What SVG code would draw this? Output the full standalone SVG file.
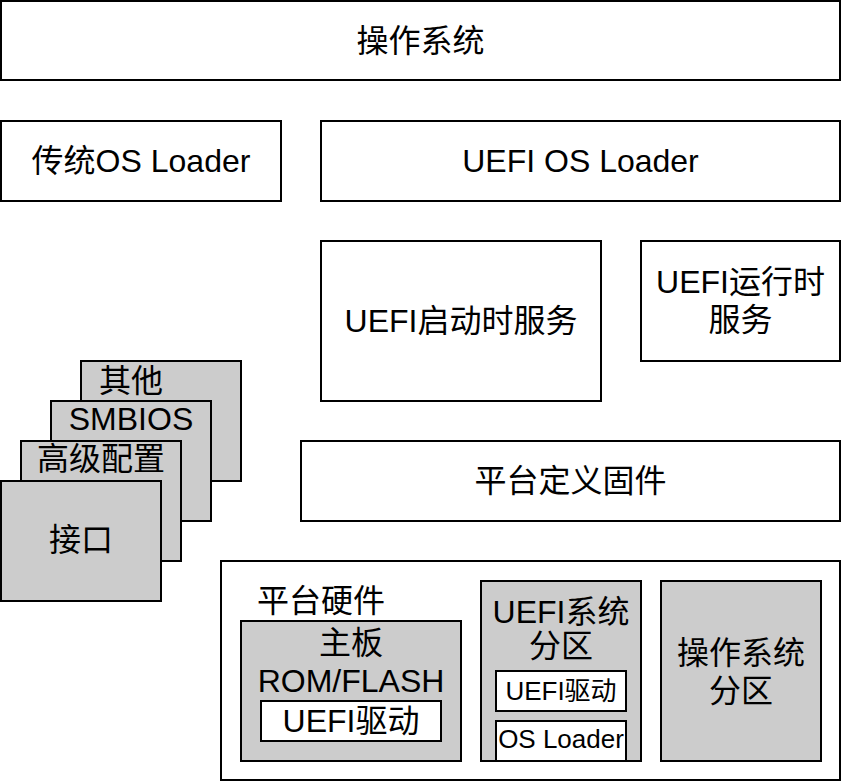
<svg xmlns="http://www.w3.org/2000/svg" width="842" height="782" viewBox="0 0 842 782">
<style>
rect{stroke:#000;stroke-width:2}
.w{fill:#fff}
.g{fill:#cccccc}
text{font-family:"Liberation Sans","Noto Sans CJK SC",sans-serif;font-size:32px;fill:#000;text-anchor:middle}
.s{font-size:26px}
</style>
<rect x="0" y="0" width="842" height="782" fill="#fff" style="stroke:none"/>
<g id="os">
<rect class="w" x="1" y="1" width="839" height="79"/>
<text x="420.5" y="52">操作系统</text>
</g>
<g id="legacy-loader">
<rect class="w" x="1" y="121" width="280" height="80"/>
<text x="141" y="172">传统OS Loader</text>
</g>
<g id="uefi-loader">
<rect class="w" x="321" y="121" width="519" height="80"/>
<text x="580.5" y="172">UEFI OS Loader</text>
</g>
<g id="boot-services">
<rect class="w" x="321" y="241" width="280" height="160"/>
<text x="461" y="332">UEFI启动时服务</text>
</g>
<g id="runtime-services">
<rect class="w" x="641" y="241" width="199" height="120"/>
<text x="740.5" y="293">UEFI运行时</text>
<text x="740.5" y="331">服务</text>
</g>
<g id="platform-firmware">
<rect class="w" x="301" y="441" width="539" height="80"/>
<text x="570.5" y="492">平台定义固件</text>
</g>
<g id="other">
<rect class="g" x="81" y="361" width="160" height="120"/>
<text x="131" y="392">其他</text>
</g>
<g id="smbios">
<rect class="g" x="51" y="401" width="160" height="120"/>
<text x="131" y="430">SMBIOS</text>
</g>
<g id="advanced-config">
<rect class="g" x="21" y="441" width="160" height="120"/>
<text x="101" y="470">高级配置</text>
</g>
<g id="interface">
<rect class="g" x="1" y="481" width="160" height="120"/>
<text x="81" y="551">接口</text>
</g>
<g id="platform-hardware">
<rect class="w" x="221" y="561" width="619" height="219"/>
<text x="321" y="612">平台硬件</text>
</g>
<g id="mainboard">
<rect class="g" x="241" y="621" width="220" height="140"/>
<text x="351" y="654">主板</text>
<text x="351" y="692">ROM/FLASH</text>
</g>
<g id="mainboard-driver">
<rect class="w" x="261" y="701" width="180" height="40"/>
<text x="351" y="732">UEFI驱动</text>
</g>
<g id="esp">
<rect class="g" x="481" y="581" width="160" height="180"/>
<text x="561" y="623">UEFI系统</text>
<text x="561" y="657">分区</text>
</g>
<g id="esp-driver">
<rect class="w" x="496" y="671" width="130" height="40"/>
<text class="s" x="561" y="700">UEFI驱动</text>
</g>
<g id="esp-loader">
<rect class="w" x="496" y="721" width="130" height="40"/>
<text class="s" x="561" y="748">OS Loader</text>
</g>
<g id="os-partition">
<rect class="g" x="661" y="581" width="160" height="180"/>
<text x="741" y="664">操作系统</text>
<text x="741" y="702">分区</text>
</g>
<g id="connectors"></g>
</svg>
